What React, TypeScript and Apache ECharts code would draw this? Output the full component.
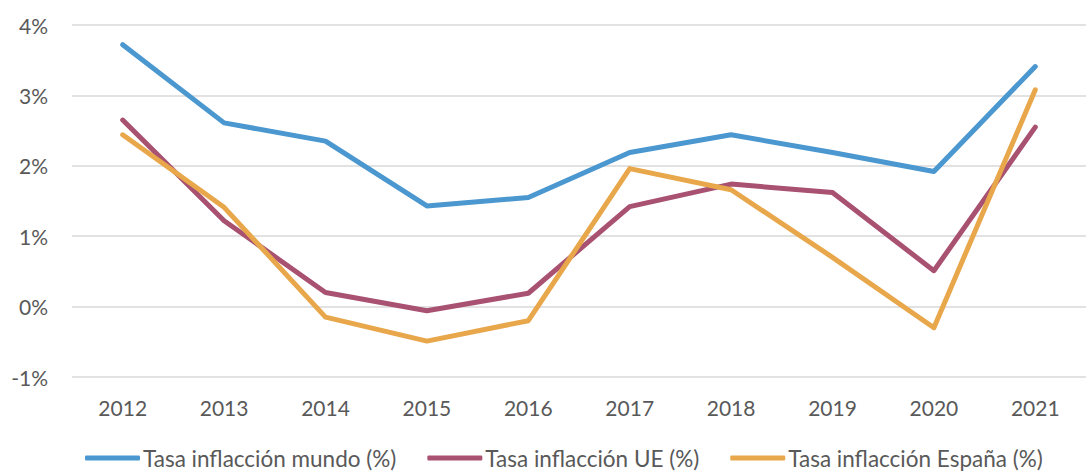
import React, { useEffect, useRef } from "react";
import * as echarts from "echarts";

const years = ["2012", "2013", "2014", "2015", "2016", "2017", "2018", "2019", "2020", "2021"];
const mundo = [3.72, 2.61, 2.35, 1.43, 1.55, 2.19, 2.44, 2.19, 1.92, 3.41];
const ue = [2.65, 1.22, 0.2, -0.06, 0.19, 1.42, 1.74, 1.62, 0.51, 2.55];
const espana = [2.44, 1.41, -0.15, -0.49, -0.2, 1.96, 1.66, 0.7, -0.3, 3.08];
const seriesNames = [
  "Tasa inflacción mundo (%)",
  "Tasa inflacción UE (%)",
  "Tasa inflacción España (%)",
];
const colors = ["#4B97CF", "#A85170", "#E8A74B"];

export default function App() {
  const ref = useRef<HTMLDivElement>(null);
  useEffect(() => {
    document.body.style.margin = "0";
    const chart = echarts.init(ref.current!, null, { renderer: "svg" });
    const font = "Lato, 'Open Sans', sans-serif";
    const textColor = "#595959";
    const data = [mundo, ue, espana];
    chart.setOption({
      animation: false,
      backgroundColor: "#ffffff",
      textStyle: { fontFamily: font },
      grid: { left: 72, right: -14, top: 25, bottom: 94, containLabel: false },
      legend: {
        left: 85,
        top: 446,
        padding: 0,
        itemGap: 31,
        itemWidth: 55,
        itemHeight: 5,
        icon: "roundRect",
        textStyle: {
          color: textColor,
          fontSize: 22.5,
          lineHeight: 24,
          fontFamily: font,
          padding: [0, 0, 0, -2],
        },
        data: seriesNames,
      },
      xAxis: {
        type: "category",
        data: years,
        boundaryGap: true,
        axisLine: { show: false },
        axisTick: { show: false },
        axisLabel: { color: textColor, fontSize: 21, margin: 20, fontFamily: font },
      },
      yAxis: {
        type: "value",
        min: -1,
        max: 4,
        interval: 1,
        axisLine: { show: false },
        axisTick: { show: false },
        axisLabel: {
          color: textColor,
          fontSize: 21,
          margin: 24,
          fontFamily: font,
          formatter: (v: number) => `${v}%`,
        },
        splitLine: { lineStyle: { color: "#D9D9D9", width: 1.5 } },
      },
      series: seriesNames.map((name, i) => ({
        name,
        type: "line",
        data: data[i],
        symbol: "none",
        lineStyle: { color: colors[i], width: 5, cap: "round", join: "round" },
        itemStyle: { color: colors[i] },
      })),
    });
    return () => chart.dispose();
  }, []);
  return <div ref={ref} style={{ width: 1086, height: 471 }} />;
}
